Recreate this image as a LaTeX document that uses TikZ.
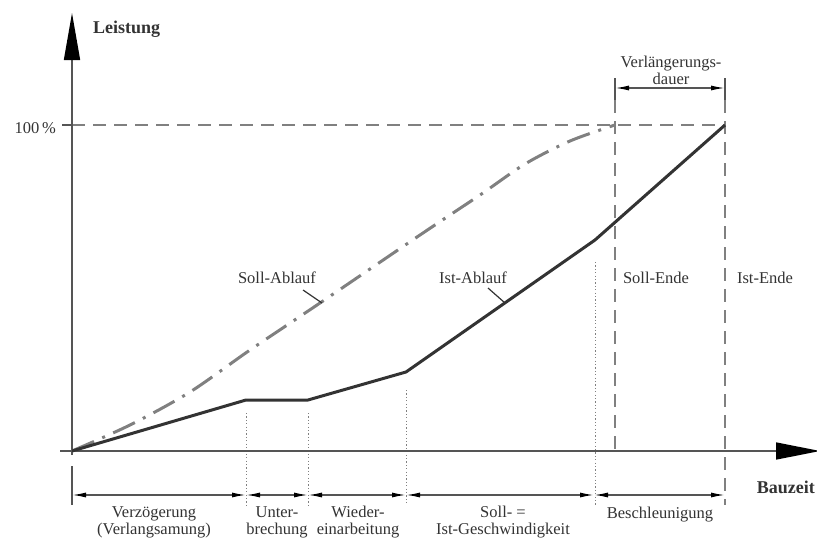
\documentclass[tikz,border=0pt]{standalone}
\usepackage{fontspec}
\setmainfont{Liberation Serif}
\usetikzlibrary{arrows.meta}
\definecolor{ink}{HTML}{333333}
\definecolor{axisc}{HTML}{555555}
\definecolor{sollc}{HTML}{808080}
\begin{document}
\begin{tikzpicture}[x=1pt,y=-1pt,
  lbl/.style={font=\fontsize{16.5}{17}\selectfont,text=ink,inner sep=0pt,align=center},
  blbl/.style={font=\fontsize{18}{19}\selectfont\bfseries,text=ink,inner sep=0pt},
  axisline/.style={draw=axisc,line width=1.6pt},
  istline/.style={draw=ink,line width=3pt,line join=round},
  sollline/.style={draw=sollc,line width=3pt,dash pattern=on 24pt off 9pt on 3pt off 9pt},
  dashedline/.style={draw=sollc,line width=1.8pt,dash pattern=on 13pt off 8pt},
  dotline/.style={draw=sollc,line width=1pt,dash pattern=on 1.2pt off 2.2pt},
  dimline/.style={draw=axisc,line width=1.4pt,{Latex[length=14pt,width=5pt,color=black]}-{Latex[length=14pt,width=5pt,color=black]}},
  extline/.style={draw=axisc,line width=1.4pt},
  leader/.style={draw=ink,line width=1.2pt}]
\useasboundingbox (0,0) rectangle (817,538);
\clip (0,0) rectangle (817,538);
% coordinates
\coordinate (O) at (72,451);
\coordinate (ytop) at (72,13);
\coordinate (ybot) at (72,455);
\coordinate (xl) at (60,451);
\coordinate (xr) at (820,451);
\coordinate (p1) at (246,400);
\coordinate (p2) at (308,400);
\coordinate (p3) at (406,372);
\coordinate (p4) at (595,240);
\coordinate (p5) at (725,125);
\coordinate (s5) at (615,125);
% 100% line
\coordinate (h0) at (62,125);
\draw[axisc,line width=1.6pt] (h0) -- (O |- h0);
\draw[dashedline] (O |- h0) -- (p5);
% dashed verticals
\coordinate (sE1) at (615,78);
\coordinate (sE2) at (615,451);
\coordinate (iE1) at (725,78);
\coordinate (iE2) at (725,505);
\draw[extline] (sE1) -- (615,100);
\draw[extline] (iE1) -- (725,100);
\draw[dashedline] (615,100) -- (sE2);
\draw[dashedline] (725,100) -- (iE2);
% dotted verticals
\coordinate (d1a) at (246,413); \coordinate (d1b) at (246,505);
\coordinate (d2a) at (308,413); \coordinate (d2b) at (308,505);
\coordinate (d3a) at (406,390); \coordinate (d3b) at (406,505);
\coordinate (d4a) at (595,262); \coordinate (d4b) at (595,505);
\draw[dotline] (d1a) -- (d1b);
\draw[dotline] (d2a) -- (d2b);
\draw[dotline] (d3a) -- (d3b);
\draw[dotline] (d4a) -- (d4b);
% extension at origin
\coordinate (e0a) at (72,466); \coordinate (e0b) at (72,505);
\draw[extline] (e0a) -- (e0b);
% axes
\draw[axisline,-{Triangle[length=47pt,width=16pt,color=black]}] (ybot) -- (ytop);
\draw[axisline,-{Triangle[length=44pt,width=17pt,color=black]}] (xl) -- (xr);
% Soll curve
\draw[sollline] plot[smooth,tension=0.5] coordinates {(72,451) (130,425) (190,392) (250,350) (320,303) (420,235) (480,195) (525,164) (570,141) (615,125)};
% Ist line
\draw[istline] (O) -- (p1) -- (p2) -- (p3) -- (p4) -- (p5);
% top dimension
\coordinate (t1) at (615,88); \coordinate (t2) at (725,88);
\draw[dimline] (t1) -- (t2);
\node[lbl] (verl) at (671,70) {Verlängerungs-\\dauer};
% bottom dimension
\coordinate (b0) at (72,495);
\coordinate (b1) at (246,495);
\coordinate (b2) at (308,495);
\coordinate (b3) at (406,495);
\coordinate (b4) at (594,495);
\coordinate (b5) at (725,495);
\draw[dimline] (b0) -- (b1);
\draw[dimline] (b1) -- (b2);
\draw[dimline] (b2) -- (b3);
\draw[dimline] (b3) -- (b4);
\draw[dimline] (b4) -- (b5);
% labels
\node[blbl,anchor=west] (leist) at (93,29) {Leistung};
\node[blbl,anchor=east] (bau) at (815,487) {Bauzeit};
\node[lbl,anchor=east] (hundert) at (56,128) {100\,\%};
\node[lbl] (sollab) at (277,278) {Soll-Ablauf};
\node[lbl] (istab) at (473,278) {Ist-Ablauf};
\coordinate (sl1) at (303,290); \coordinate (sl2) at (322,303);
\coordinate (il1) at (488,288); \coordinate (il2) at (505,303);
\draw[leader] (sl1) -- (sl2);
\draw[leader] (il1) -- (il2);
\node[lbl] (sollende) at (656,278) {Soll-Ende};
\node[lbl] (istende) at (765,278) {Ist-Ende};
\node[lbl] (verz) at (154,522) {Verzögerung\\(Verlangsamung)};
\node[lbl] (unter) at (277,522) {Unter-\\brechung};
\node[lbl] (wieder) at (358,522) {Wieder-\\einarbeitung};
\node[lbl] (gleich) at (503,522) {Soll- =\\Ist-Geschwindigkeit};
\node[lbl] (besch) at (660,515) {Beschleunigung};
\end{tikzpicture}
\end{document}
